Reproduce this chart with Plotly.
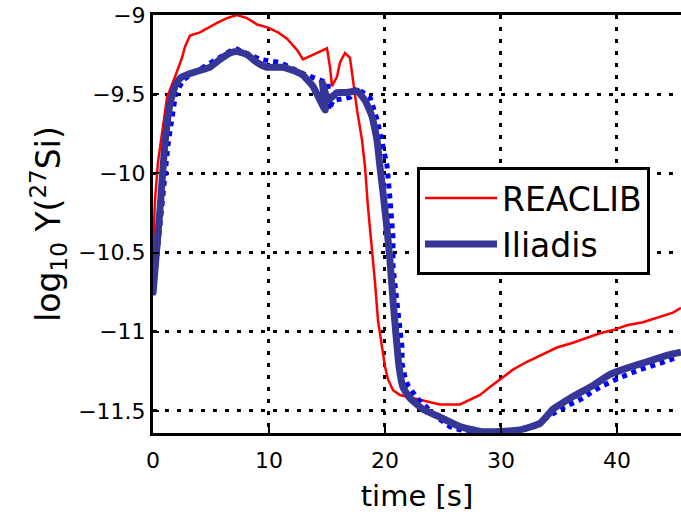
import plotly.graph_objects as go

# REACLIB (red)
reaclib_t = [0.0, 0.17, 0.43, 0.86, 1.21, 1.90, 2.50, 2.76, 3.19, 4.05, 4.74, 5.52, 6.38, 7.24,
             8.10, 8.97, 9.91, 10.78, 11.55, 12.41, 12.93, 13.79, 15.00, 15.26, 15.43, 15.86,
             16.12, 16.55, 16.98, 17.24, 17.59, 18.02, 18.28, 18.53, 18.88, 19.14, 19.40,
             19.74, 20.00, 20.26, 20.69, 21.29, 22.41, 23.62, 24.74, 26.47, 27.33, 28.19,
             29.05, 29.91, 31.03, 32.24, 33.36, 34.83, 36.21, 37.41, 38.53, 39.66, 40.86,
             42.24, 43.45, 44.83, 45.52]
reaclib_y = [-10.48, -10.17, -9.93, -9.71, -9.52, -9.39, -9.27, -9.20, -9.13, -9.11, -9.08,
             -9.05, -9.02, -9.00, -9.02, -9.06, -9.08, -9.11, -9.15, -9.22, -9.28, -9.25,
             -9.21, -9.33, -9.45, -9.39, -9.30, -9.24, -9.27, -9.41, -9.60, -9.79, -9.96,
             -10.21, -10.46, -10.69, -10.93, -11.10, -11.22, -11.30, -11.37, -11.40, -11.42,
             -11.44, -11.46, -11.46, -11.43, -11.40, -11.35, -11.30, -11.24, -11.19, -11.15,
             -11.10, -11.07, -11.04, -11.01, -10.99, -10.96, -10.94, -10.91, -10.88, -10.85]

# Iliadis (navy thick line)
iliadis_t = [0.0, 0.60, 1.03, 1.47, 1.90, 2.33, 3.19, 4.05, 4.91, 5.78, 6.64, 7.24, 8.10, 8.97,
             9.83, 11.21, 12.41, 12.93, 13.79, 14.85, 14.62, 15.09, 15.86, 16.72, 17.59,
             18.28, 18.88, 19.31, 19.57, 19.83, 20.17, 20.43, 20.69, 20.95, 21.21, 21.55,
             22.16, 23.28, 24.74, 26.47, 28.19, 29.91, 31.64, 33.36, 34.48, 36.21, 37.93,
             39.40, 40.86, 42.59, 44.31, 45.52]
iliadis_y = [-10.76, -10.23, -9.81, -9.56, -9.45, -9.40, -9.37, -9.35, -9.33, -9.28, -9.24,
             -9.23, -9.25, -9.30, -9.33, -9.33, -9.36, -9.38, -9.45, -9.60, -9.43, -9.54,
             -9.49, -9.49, -9.48, -9.54, -9.64, -9.79, -9.96, -10.12, -10.35, -10.55, -10.80,
             -11.02, -11.22, -11.35, -11.42, -11.49, -11.54, -11.60, -11.63, -11.63, -11.62,
             -11.58, -11.49, -11.41, -11.34, -11.27, -11.23, -11.19, -11.15, -11.13]

# Iliadis (blue dotted companion)
blue_t = [0.0, 0.65, 1.29, 1.95, 2.60, 3.19, 5.09, 7.07, 9.22, 10.95, 12.93, 15.09, 15.17,
          15.52, 16.98, 17.59, 18.10, 18.71, 18.97, 19.31, 19.74, 20.17, 20.43, 20.69, 20.69,
          20.95, 21.21, 21.47, 21.47, 21.72, 21.98, 22.33, 22.76, 23.62, 24.48, 25.60, 26.47,
          28.19, 29.74, 31.03, 32.76, 33.97, 35.09, 36.81, 38.53, 40.26, 41.98, 43.71, 45.26]
blue_y = [-10.77, -10.28, -9.82, -9.50, -9.41, -9.38, -9.30, -9.21, -9.28, -9.30, -9.37,
          -9.43, -9.60, -9.54, -9.52, -9.46, -9.49, -9.52, -9.58, -9.66, -9.80, -9.95, -10.16,
          -10.40, -10.59, -10.78, -10.96, -11.10, -11.20, -11.29, -11.34, -11.38, -11.42,
          -11.48, -11.54, -11.60, -11.62, -11.64, -11.64, -11.64, -11.60, -11.54, -11.49,
          -11.43, -11.35, -11.29, -11.24, -11.20, -11.16]

x_ticks = [0, 10, 20, 30, 40]
y_ticks = [-11.5, -11, -10.5, -10, -9.5, -9]

FONT = "DejaVu Sans"

fig = go.Figure()
fig.add_trace(go.Scatter(x=reaclib_t, y=reaclib_y, mode="lines", name="REACLIB",
                         line=dict(color="#ff0000", width=2.5)))
fig.add_trace(go.Scatter(x=blue_t, y=blue_y, mode="lines", name="Iliadis data",
                         showlegend=False,
                         line=dict(color="#0000ff", width=5, dash="dot")))
fig.add_trace(go.Scatter(x=iliadis_t, y=iliadis_y, mode="lines", name="Iliadis",
                         line=dict(color="#363696", width=7, shape="spline", smoothing=0.4)))

axis_common = dict(
    showline=True, linecolor="black", linewidth=3,
    ticks="inside", ticklen=6, tickwidth=2, tickcolor="black",
    showgrid=True, gridcolor="black", gridwidth=3, griddash="4px,8px",
    zeroline=False,
    tickfont=dict(family=FONT, size=22, color="black"),
)

fig.update_layout(
    width=681, height=515, autosize=False,
    margin=dict(l=153, r=0, t=15, b=82, pad=0),
    paper_bgcolor="white", plot_bgcolor="white",
    font=dict(family=FONT, color="black"),
    xaxis=dict(range=[0, 45.52], tickvals=x_ticks, mirror=True, ticklabelstandoff=6,
               title=dict(text="time [s]", font=dict(family=FONT, size=29, color="black"),
                          standoff=14),
               **axis_common),
    yaxis=dict(range=[-11.64, -9.0], tickvals=y_ticks,
               title=dict(text="log<sub>10</sub> Y(<sup>27</sup>Si)",
                          font=dict(family=FONT, size=33, color="black"), standoff=8),
               **axis_common),
    legend=dict(x=0.5, y=0.636, xanchor="left", yanchor="top",
                bgcolor="white", bordercolor="black", borderwidth=3,
                font=dict(family=FONT, size=33, color="black"),
                itemwidth=72),
    showlegend=True,
)

fig.write_html("out.html")
